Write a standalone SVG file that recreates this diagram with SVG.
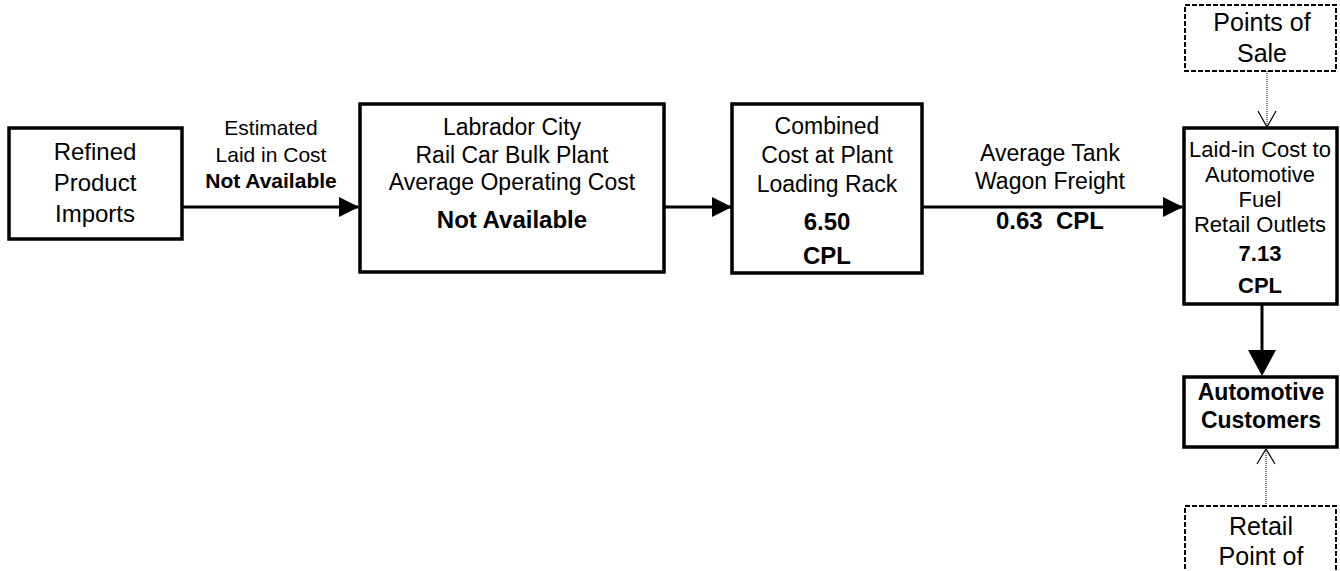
<svg xmlns="http://www.w3.org/2000/svg" width="1340" height="571" viewBox="0 0 1340 571">
<defs>
<style>
.box{fill:#fff;stroke:#000;stroke-width:3.5}
.dbox{fill:#fff;stroke:#000;stroke-width:2;stroke-dasharray:5 2}
.ln{stroke:#000;stroke-width:3;fill:none}
.dot{stroke:#000;stroke-width:1;stroke-dasharray:1 1;fill:none}
.open{stroke:#000;stroke-width:1.2;fill:none}
text{font-family:"Liberation Sans",Arial,sans-serif;fill:#000;text-anchor:middle}
.b{font-weight:bold}
</style>
<marker id="ah" markerWidth="20" markerHeight="20" refX="19" refY="10" orient="auto" markerUnits="userSpaceOnUse">
<path d="M0,0 L20,10 L0,20 Z" fill="#000"/>
</marker>
</defs>
<g id="connectors">
<line class="ln" x1="182" y1="207" x2="358" y2="207" marker-end="url(#ah)"/>
<line class="ln" x1="664" y1="207" x2="731" y2="207" marker-end="url(#ah)"/>
<line class="ln" x1="922" y1="207" x2="1182" y2="207" marker-end="url(#ah)"/>
<line class="ln" x1="1262" y1="304" x2="1262" y2="352"/>
<path d="M1248,350 L1276,350 L1262,376 Z" fill="#000"/>
<line class="dot" x1="1267" y1="71" x2="1267" y2="127"/>
<path class="open" d="M1258,111 L1267,127 L1276,111"/>
<line class="dot" x1="1266" y1="506" x2="1266" y2="449"/>
<path class="open" d="M1257,464 L1266,449 L1275,464"/>
</g>
<g id="node-refined">
<rect class="box" x="9" y="128" width="173" height="111"/>
<text x="95" y="160" font-size="24">Refined</text>
<text x="95" y="191" font-size="24">Product</text>
<text x="95" y="222" font-size="24">Imports</text>
</g>
<g id="label-estimated">
<text x="271" y="135" font-size="21">Estimated</text>
<text x="271" y="162" font-size="21">Laid in Cost</text>
<text class="b" x="271" y="188" font-size="21">Not Available</text>
</g>
<g id="node-labrador">
<rect class="box" x="360" y="104" width="304" height="168"/>
<text x="512" y="135" font-size="23">Labrador City</text>
<text x="512" y="163" font-size="23">Rail Car Bulk Plant</text>
<text x="512" y="190" font-size="23">Average Operating Cost</text>
<text class="b" x="512" y="228" font-size="24">Not Available</text>
</g>
<g id="node-combined">
<rect class="box" x="732" y="104" width="190" height="169"/>
<text x="827" y="134" font-size="23">Combined</text>
<text x="827" y="163" font-size="23">Cost at Plant</text>
<text x="827" y="192" font-size="23">Loading Rack</text>
<text class="b" x="827" y="230" font-size="24">6.50</text>
<text class="b" x="827" y="264" font-size="24">CPL</text>
</g>
<g id="label-freight">
<text x="1050" y="161" font-size="23">Average Tank</text>
<text x="1050" y="189" font-size="23">Wagon Freight</text>
<text class="b" x="1050" y="229" font-size="24" xml:space="preserve">0.63  CPL</text>
</g>
<g id="node-pos">
<rect class="dbox" x="1185" y="5" width="151" height="66"/>
<text x="1262" y="31" font-size="25">Points of</text>
<text x="1262" y="62" font-size="25">Sale</text>
</g>
<g id="node-laidin">
<rect class="box" x="1184" y="128" width="153" height="176"/>
<text x="1260" y="157" font-size="22">Laid-in Cost to</text>
<text x="1260" y="182" font-size="22">Automotive</text>
<text x="1260" y="207" font-size="22">Fuel</text>
<text x="1260" y="232" font-size="22">Retail Outlets</text>
<text class="b" x="1260" y="261" font-size="22">7.13</text>
<text class="b" x="1260" y="293" font-size="22">CPL</text>
</g>
<g id="node-customers">
<rect class="box" x="1184" y="377" width="153" height="70"/>
<text class="b" x="1261" y="400" font-size="23">Automotive</text>
<text class="b" x="1261" y="428" font-size="23">Customers</text>
</g>
<g id="node-retail">
<rect class="dbox" x="1185" y="506" width="151" height="80"/>
<text x="1261" y="535" font-size="25">Retail</text>
<text x="1261" y="565" font-size="25">Point of</text>
</g>
</svg>
